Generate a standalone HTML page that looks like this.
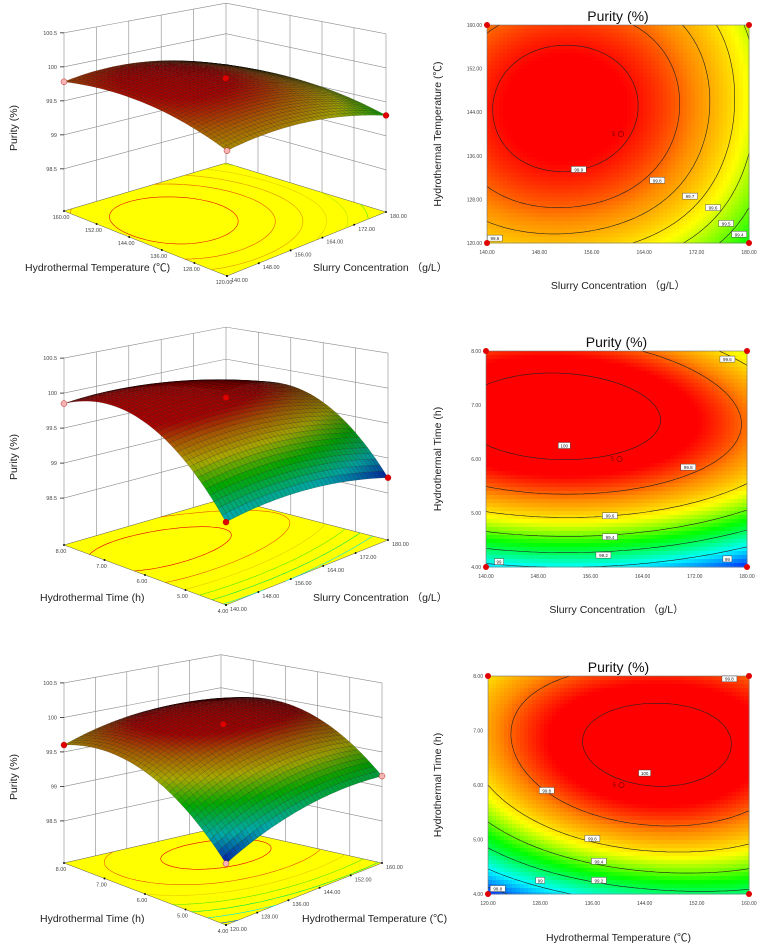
<!DOCTYPE html>
<html><head><meta charset="utf-8">
<style>
html,body{margin:0;padding:0;background:#fff;}
svg{display:block;font-family:"Liberation Sans","Noto Sans CJK SC",sans-serif;}
</style></head>
<body>
<svg id="fig" width="758" height="944" viewBox="0 0 758 944" xmlns="http://www.w3.org/2000/svg">
<g id="g3d"></g>
<g id="gct"></g>
</svg>
<script>
// ---- data: 3x3 response grids (rows = y-variable low->high, cols = x-variable low->high) ----
const gridTempConc = [
  [99.62, 99.62, 99.30],
  [99.88, 99.92, 99.52],
  [99.78, 99.82, 99.48]
];
const gridTimeConc = [
  [98.95, 98.98, 98.72],
  [99.95, 99.98, 99.72],
  [99.85, 99.84, 99.50]
];
const gridTimeTemp = [
  [98.72, 99.10, 99.15],
  [99.60, 99.98, 99.90],
  [99.60, 99.86, 99.80]
];
const concTicks = ['140.00','148.00','156.00','164.00','172.00','180.00'];
const tempTicks = ['120.00','128.00','136.00','144.00','152.00','160.00'];
const timeTicks = ['4.00','5.00','6.00','7.00','8.00'];
const zTicks = [98.5, 99, 99.5, 100, 100.5];
const levels1 = [99.4, 99.5, 99.6, 99.7, 99.8, 99.9];
const levels2 = [99.0, 99.2, 99.4, 99.6, 99.8, 100.0];
const levels3 = [98.8, 99.0, 99.2, 99.4, 99.6, 99.8, 100.0];
const labels1 = [['99.9',154,133.5],['99.8',166,131.5],['99.7',171,128.6],['99.6',174.5,126.5],['99.5',176.5,123.6],['99.4',178.5,121.6],['99.6',141.2,120.9]];
const labels2 = [['100',152,6.25],['99.8',171,5.85],['99.6',159,4.95],['99.4',159,4.56],['99.2',158,4.22],['99',142,4.1],['99',177,4.15],['99.6',177,7.85]];
const labels3 = [['100',144,6.22],['99.8',129,5.9],['99.6',136,5.02],['99.4',137,4.6],['99.2',137,4.25],['99',128,4.25],['98.8',121.5,4.1],['99.8',157,7.95]];

const NS='http://www.w3.org/2000/svg';
function mk(tag, attrs, parent){const e=document.createElementNS(NS,tag);for(const k in attrs)e.setAttribute(k,attrs[k]);parent.appendChild(e);return e;}
function L3(s){return [2*(s-.5)*(s-1), -4*s*(s-1), 2*s*(s-.5)];}
function evalGrid(g,r,c){const a=L3(r),b=L3(c);let s=0;for(let i=0;i<3;i++)for(let j=0;j<3;j++)s+=a[i]*b[j]*g[i][j];return s;}
const stops=[[98.75,[0,60,255]],[99.0,[0,255,255]],[99.3,[0,255,0]],[99.55,[255,255,0]],[99.75,[255,140,0]],[99.92,[255,0,0]]];
function cmap(v){
  if(v<=stops[0][0])return stops[0][1].slice();
  for(let i=1;i<stops.length;i++){if(v<=stops[i][0]){const t=(v-stops[i-1][0])/(stops[i][0]-stops[i-1][0]);return stops[i-1][1].map((a,k)=>a+(stops[i][1][k]-a)*t);}}
  return stops[stops.length-1][1].slice();
}
function rgb(c,f){f=f||1;return 'rgb('+c.map(x=>Math.round(Math.max(0,Math.min(255,x*f)))).join(',')+')';}
function contourSegs(g,level,n){
  const val=[];for(let i=0;i<=n;i++){val.push([]);for(let j=0;j<=n;j++)val[i].push(evalGrid(g,i/n,j/n));}
  const segs=[];
  for(let i=0;i<n;i++)for(let j=0;j<n;j++){
    const c=[[i,j],[i,j+1],[i+1,j+1],[i+1,j]];const pts=[];
    for(let k=0;k<4;k++){const p=c[k],q=c[(k+1)%4];const a=val[p[0]][p[1]]-level,b=val[q[0]][q[1]]-level;
      if((a<0)!==(b<0)){const t=a/(a-b);pts.push([(p[0]+(q[0]-p[0])*t)/n,(p[1]+(q[1]-p[1])*t)/n]);}}
    if(pts.length>=2)segs.push([pts[0],pts[1]]);
    if(pts.length===4)segs.push([pts[2],pts[3]]);
  }
  return segs;
}

// ================== contour panels ==================
const gct=document.getElementById('gct');
function contourPanel(cfg){
  const g=mk('g',{},gct);
  
  
  const X=f=>cfg.x0+(cfg.x1-cfg.x0)*f, Y=f=>cfg.y1-(cfg.y1-cfg.y0)*f;
  const xs=v=>(v-cfg.xmin)/(cfg.xmax-cfg.xmin), ys=v=>(v-cfg.ymin)/(cfg.ymax-cfg.ymin);
  const cell=4,nx=Math.ceil((cfg.x1-cfg.x0)/cell),ny=Math.ceil((cfg.y1-cfg.y0)/cell);
  const hm=mk('g',{'shape-rendering':'crispEdges'},g);
  
  
  for(let i=0;i<ny;i++)for(let j=0;j<nx;j++){
    const px=cfg.x0+j*cell,py=cfg.y0+i*cell;const w=Math.min(cell,cfg.x1-px),h=Math.min(cell,cfg.y1-py);
    const cf=(px+w/2-cfg.x0)/(cfg.x1-cfg.x0),rf=(cfg.y1-(py+h/2))/(cfg.y1-cfg.y0);
    const r=mk('rect',{x:px,y:py,width:w+0.5,height:h+0.5,fill:rgb(cmap(evalGrid(cfg.grid,rf,cf)))},hm);
    
    
  }
  cfg.levels.forEach(lv=>{
    let d='';contourSegs(cfg.grid,lv,70).forEach(s=>{d+='M'+X(s[0][1]).toFixed(1)+' '+Y(s[0][0]).toFixed(1)+'L'+X(s[1][1]).toFixed(1)+' '+Y(s[1][0]).toFixed(1);});
    const p=mk('path',{d:d,stroke:'#222',fill:'none','stroke-width':0.6},g);
    
    
  });
  cfg.labels.forEach(l=>{
    const cx=X(xs(l[1])),cy=Y(ys(l[2]));const w=l[0].length*3+3;
    const r=mk('rect',{x:cx-w/2,y:cy-3,width:w,height:6,fill:'#fff',stroke:'#333','stroke-width':0.4},g);
    
    
    const t=mk('text',{x:cx,y:cy+2,'font-size':4.5,'text-anchor':'middle',fill:'#222'},g);t.textContent=l[0];
    
    
  });
  const fr=mk('rect',{x:cfg.x0,y:cfg.y0,width:cfg.x1-cfg.x0,height:cfg.y1-cfg.y0,fill:'none',stroke:'#777','stroke-width':0.6},g);
  
  
  cfg.xt.forEach((s,i)=>{const t=mk('text',{x:X(i/(cfg.xt.length-1)),y:cfg.y1+11,'font-size':5,'text-anchor':'middle',fill:'#444'},g);t.textContent=s;
    
    });
  cfg.yt.forEach((s,i)=>{const t=mk('text',{x:cfg.x0-5,y:Y(i/(cfg.yt.length-1))+2,'font-size':5,'text-anchor':'end',fill:'#444'},g);t.textContent=s;
    
    });
  [[0,0],[1,0],[0,1],[1,1]].forEach(c=>{const d=mk('circle',{cx:X(c[0]),cy:Y(c[1]),r:3,fill:'#e00000'},g);
    
    });
  const mx=X(.5),my=Y(.5);
  const t5=mk('text',{x:mx-6,y:my+2,'font-size':6,fill:'#800000'},g);t5.textContent='5';
  
  
  const cc=mk('circle',{cx:mx+3,cy:my,r:2.6,fill:'none',stroke:'#800000','stroke-width':0.7},g);
  
  
  const tt=mk('text',{x:(cfg.x0+cfg.x1)/2,y:cfg.ty,'font-size':14,'text-anchor':'middle',fill:'#111'},g);tt.textContent='Purity (%)';
  
  
  const xt=mk('text',{x:(cfg.x0+cfg.x1)/2,y:cfg.xty,'font-size':10.5,'text-anchor':'middle',fill:'#222'},g);xt.textContent=cfg.xtitle;
  
  
  const ym=(cfg.y0+cfg.y1)/2;
  const yt=mk('text',{x:441,y:ym,'font-size':10.5,'text-anchor':'middle',fill:'#222',transform:'rotate(-90 441 '+ym+')'},g);yt.textContent=cfg.ytitle;
  
  
}
contourPanel({name:'contour-temp-conc',grid:gridTempConc,levels:levels1,labels:labels1,x0:487,x1:749,y0:25,y1:243,xmin:140,xmax:180,ymin:120,ymax:160,xt:concTicks,yt:tempTicks,ty:21,xty:289,xtitle:'Slurry Concentration （g/L）',ytitle:'Hydrothermal Temperature (℃)'});
contourPanel({name:'contour-time-conc',grid:gridTimeConc,levels:levels2,labels:labels2,x0:486,x1:747,y0:351,y1:567,xmin:140,xmax:180,ymin:4,ymax:8,xt:concTicks,yt:timeTicks,ty:347,xty:613,xtitle:'Slurry Concentration （g/L）',ytitle:'Hydrothermal Time (h)'});
contourPanel({name:'contour-time-temp',grid:gridTimeTemp,levels:levels3,labels:labels3,x0:488,x1:749,y0:676,y1:894,xmin:120,xmax:160,ymin:4,ymax:8,xt:tempTicks,yt:timeTicks,ty:672,xty:941,xtitle:'Hydrothermal Temperature (℃)',ytitle:'Hydrothermal Time (h)'});

// ================== 3D surface panels ==================
const g3d=document.getElementById('g3d');
function surfacePanel(cfg){
  const g=mk('g',{},g3d);
  
  
  const F=cfg.F,L=cfg.L,R=cfg.R,B=cfg.B,K=cfg.k;
  function base(u,v){return [F[0]*(1-u)*(1-v)+L[0]*u*(1-v)+R[0]*(1-u)*v+B[0]*u*v, F[1]*(1-u)*(1-v)+L[1]*u*(1-v)+R[1]*(1-u)*v+B[1]*u*v];}
  function kk(u,v){return K[0]*(1-u)*(1-v)+K[1]*u*(1-v)+K[2]*(1-u)*v+K[3]*u*v;}
  function P(u,v,z){const b=base(u,v);return [b[0],b[1]-(z-cfg.zf)*kk(u,v)];}
  const zTop=100.5;
  let d='';
  for(let i=0;i<=5;i++){const f=i/5;let a=P(1,f,cfg.zf),b=P(1,f,zTop);d+='M'+a[0]+' '+a[1]+'L'+b[0]+' '+b[1];a=P(f,1,cfg.zf);b=P(f,1,zTop);d+='M'+a[0]+' '+a[1]+'L'+b[0]+' '+b[1];}
  zTicks.forEach(z=>{const a=P(1,0,z),b=P(1,1,z),c=P(0,1,z);d+='M'+a[0]+' '+a[1]+'L'+b[0]+' '+b[1]+'L'+c[0]+' '+c[1];});
  const w=mk('path',{d:d,stroke:'#8a8a8a','stroke-width':0.6,fill:'none'},g);
  
  
  zTicks.forEach(z=>{const p=P(1,0,z);
    const tk=mk('line',{x1:p[0]-4,y1:p[1],x2:p[0],y2:p[1],stroke:'#222','stroke-width':0.8},g);
    
    
    const t=mk('text',{x:p[0]-7,y:p[1]+2,'font-size':5.5,'text-anchor':'end',fill:'#444'},g);t.textContent=String(z);
    
    });
  const fl=mk('polygon',{points:[F,L,B,R].map(p=>p.join(',')).join(' '),fill:'#ffff00',stroke:'#555','stroke-width':0.5},g);
  
  
  cfg.levels.forEach(lv=>{
    let dd='';contourSegs(cfg.grid,lv,40).forEach(s=>{const a=base(s[0][0],s[0][1]),b=base(s[1][0],s[1][1]);dd+='M'+a[0].toFixed(1)+' '+a[1].toFixed(1)+'L'+b[0].toFixed(1)+' '+b[1].toFixed(1);});
    const c=cmap(lv);const p=mk('path',{d:dd,stroke:rgb(c,0.9),fill:'none','stroke-width':0.6},g);
    
    
  });
  cfg.lt.forEach((s,i)=>{const f=i/(cfg.lt.length-1);const p=base(f,0);
    const m=mk('circle',{cx:p[0],cy:p[1],r:1,fill:'#111'},g);
    
    
    const t=mk('text',{x:p[0]-3,y:p[1]+8,'font-size':5.5,'text-anchor':'middle',fill:'#444'},g);t.textContent=s;
    
    });
  cfg.rt.forEach((s,i)=>{const f=i/(cfg.rt.length-1);const p=base(0,f);
    const m=mk('circle',{cx:p[0],cy:p[1],r:1,fill:'#111'},g);
    
    
    const t=mk('text',{x:p[0]+4,y:p[1]+6,'font-size':5.5,'text-anchor':'start',fill:'#444'},g);t.textContent=s;
    
    });
  const N=40;const quads=[];
  for(let i=0;i<N;i++)for(let j=0;j<N;j++)quads.push([i,j]);
  quads.sort((a,b)=>(b[0]+b[1])-(a[0]+a[1]));
  const sg=mk('g',{},g);
  
  
  quads.forEach(q=>{
    const u0=q[0]/N,u1=(q[0]+1)/N,v0=q[1]/N,v1=(q[1]+1)/N;
    const pts=[[u0,v0],[u1,v0],[u1,v1],[u0,v1]].map(c=>P(c[0],c[1],evalGrid(cfg.grid,c[0],c[1])));
    const zc=evalGrid(cfg.grid,(u0+u1)/2,(v0+v1)/2);
    const dep=(u0+v0)/2;
    const shade=0.66-0.5*Math.pow(dep,3);
    const p=mk('polygon',{points:pts.map(p=>p[0].toFixed(1)+','+p[1].toFixed(1)).join(' '),fill:rgb(cmap(zc),shade),stroke:'rgba(0,0,0,0.4)','stroke-width':0.35},sg);
    
    
  });
  cfg.dots.forEach(dt=>{const p=P(dt[0],dt[1],evalGrid(cfg.grid,dt[0],dt[1]));
    const c=mk('circle',{cx:p[0],cy:p[1],r:3,fill:dt[2],stroke:'#a00','stroke-width':0.4},g);
    
    });
  const tl=mk('text',{x:cfg.ltx,y:cfg.lty,'font-size':10.5,fill:'#222'},g);tl.textContent=cfg.ltitle;
  
  
  const tr=mk('text',{x:cfg.rtx,y:cfg.lty,'font-size':10.5,fill:'#222'},g);tr.textContent=cfg.rtitle;
  
  
  const zy=cfg.zty;
  const tz=mk('text',{x:17,y:zy,'font-size':10.5,'text-anchor':'middle',fill:'#222',transform:'rotate(-90 17 '+zy+')'},g);tz.textContent='Purity (%)';
  
  
}
surfacePanel({name:'surface-temp-conc',grid:gridTempConc,levels:levels1,F:[227,276],L:[64,211],R:[386,212],B:[226,163],k:[72,68,68,61],zf:97.88,lt:tempTicks,rt:concTicks,
  dots:[[1,0,'#f4b4b4'],[0,0,'#f4b4b4'],[0,1,'#e00000'],[.5,.5,'#e00000']],ltitle:'Hydrothermal Temperature (℃)',rtitle:'Slurry Concentration （g/L）',ltx:25,rtx:313,lty:271,zty:128});
surfacePanel({name:'surface-time-conc',grid:gridTimeConc,levels:levels2,F:[226,605],L:[64,545],R:[388,540],B:[226,498],k:[74,70,70,64],zf:97.83,lt:timeTicks,rt:concTicks,
  dots:[[1,0,'#f4b4b4'],[0,0,'#e00000'],[0,1,'#e00000'],[.5,.5,'#e00000']],ltitle:'Hydrothermal Time (h)',rtitle:'Slurry Concentration （g/L）',ltx:40,rtx:313,lty:601,zty:457});
surfacePanel({name:'surface-time-temp',grid:gridTimeTemp,levels:levels3,F:[226,925],L:[64,863],R:[382,863],B:[221,827],k:[74,69,69,66],zf:97.89,lt:timeTicks,rt:tempTicks,
  dots:[[1,0,'#e00000'],[0,0,'#f4b4b4'],[0,1,'#f4b4b4'],[.5,.5,'#e00000']],ltitle:'Hydrothermal Time (h)',rtitle:'Hydrothermal Temperature (℃)',ltx:40,rtx:302,lty:922,zty:777});
</script>
</body></html>
